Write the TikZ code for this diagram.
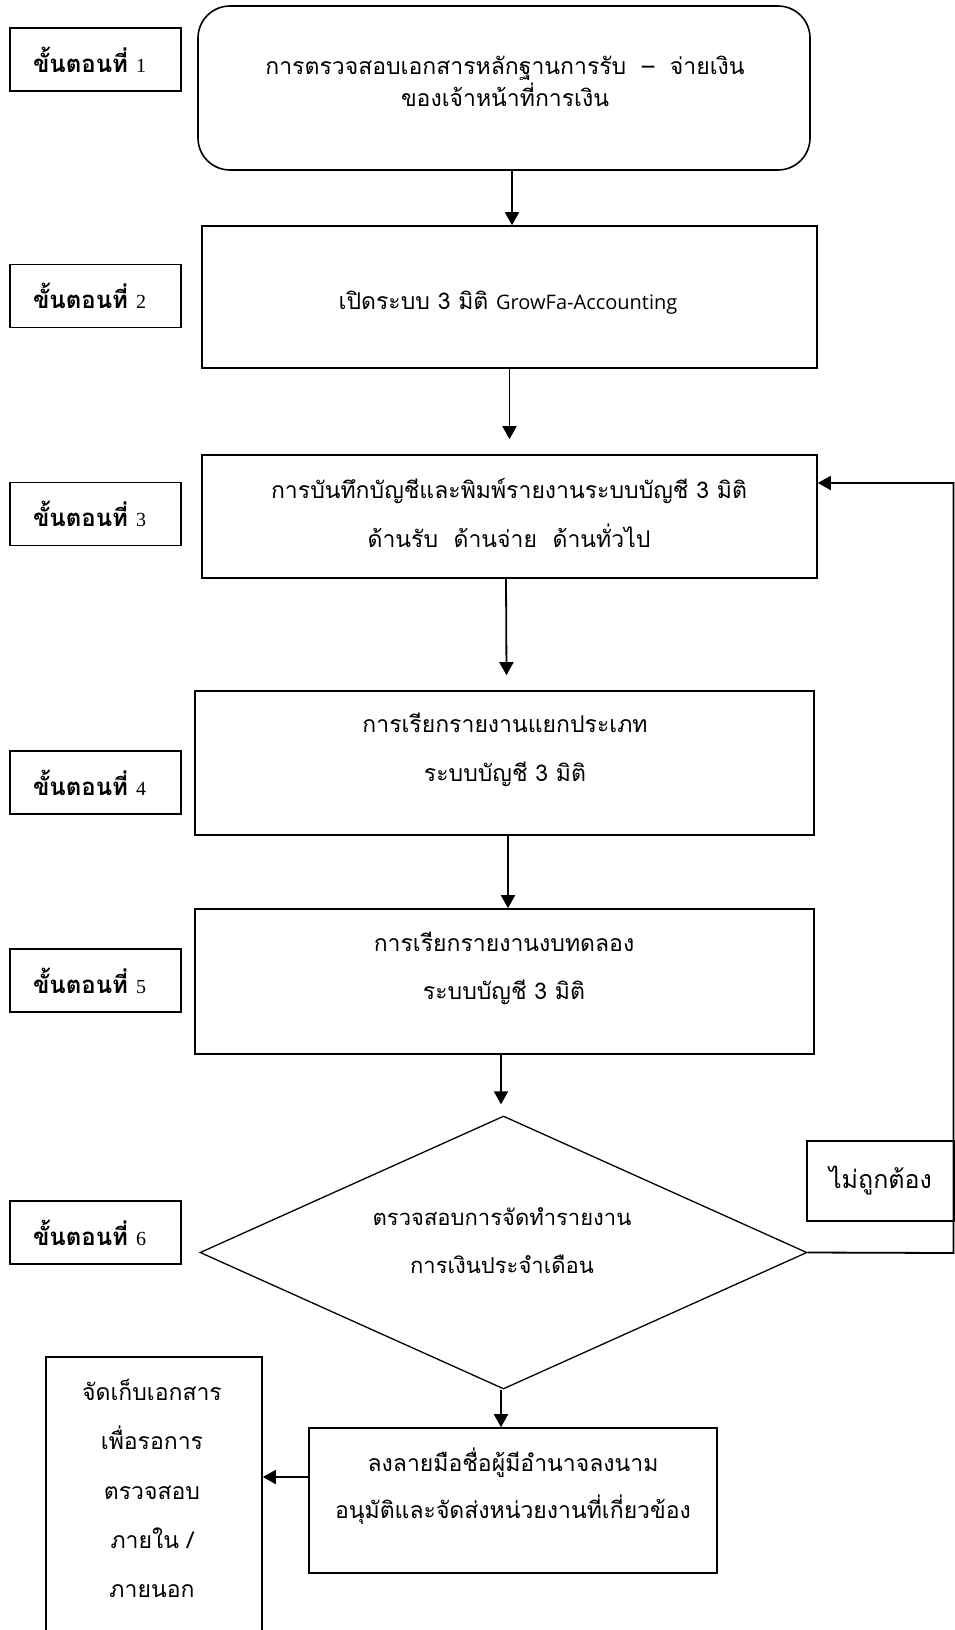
\documentclass[tikz,border=0pt]{standalone}
\usepackage{fontspec}
\usetikzlibrary{arrows.meta,shapes.geometric}
\newfontfamily\thai[Script=Thai]{Loma}
\newfontfamily\lsans{Open Sans}
\newfontfamily\lserif{Liberation Serif}
\newcommand{\fs}[2]{\fontsize{#1}{#2}\selectfont}
\newcommand{\stepno}[1]{{\lserif\mdseries\fs{20}{24}#1}}
\begin{document}
\begin{tikzpicture}[x=1pt,y=-1pt,
  box/.style={draw, line width=1.6pt, rectangle, inner sep=0pt},
  stepbox/.style={draw, line width=1.6pt, rectangle, minimum height=63pt,
     text width=125pt, inner xsep=23pt, inner ysep=0pt, align=left,
     font=\thai\bfseries\fs{24}{28}},
  txt/.style={align=center, inner sep=0pt, font=\thai\fs{23}{49}},
  arr/.style={line width=1.8pt, -{Triangle[length=13pt,width=14pt]}}]
\useasboundingbox (0,0) rectangle (955,1630);

% step labels
\node[stepbox] (s1) at (95.5,59.5)  {ขั้นตอนที่ \stepno{1}};
\node[stepbox] (s2) at (95.5,296)   {ขั้นตอนที่ \stepno{2}};
\node[stepbox] (s3) at (95.5,514)   {ขั้นตอนที่ \stepno{3}};
\node[stepbox] (s4) at (95.5,782.5) {ขั้นตอนที่ \stepno{4}};
\node[stepbox] (s5) at (95.5,980.5) {ขั้นตอนที่ \stepno{5}};
\node[stepbox] (s6) at (95.5,1232.5){ขั้นตอนที่ \stepno{6}};

% process boxes
\node[box, rounded corners=32pt, minimum width=612pt, minimum height=164pt] (b1) at (504,88) {};
\node[box, minimum width=615pt, minimum height=142pt] (b2) at (509.5,297) {};
\node[box, minimum width=615pt, minimum height=123pt] (b3) at (509.5,516.5) {};
\node[box, minimum width=619pt, minimum height=144pt] (b4) at (504.5,763) {};
\node[box, minimum width=619pt, minimum height=145pt] (b5) at (504.5,981.5) {};
\node[draw, line width=1.3pt, diamond, inner sep=0pt, minimum width=607pt, minimum height=273pt] (d) at (503.5,1252.5) {};
\node[box, minimum width=408pt, minimum height=145pt] (b7) at (513,1500.5) {};
\node[box, minimum width=216pt, minimum height=288pt] (b8) at (154,1501) {};
\node[box, minimum width=147pt, minimum height=80pt, font=\thai\fs{25}{28}] (no) at (880.5,1181) {ไม่ถูกต้อง};

% texts
\node[txt, font=\thai\fs{23}{32}] (t1) at (505,81)
  {การตรวจสอบเอกสารหลักฐานการรับ\ \ –\ \ จ่ายเงิน\\ของเจ้าหน้าที่การเงิน};
\node[txt] (t2) at (508,303) {เปิดระบบ 3 มิติ {\lsans\fs{20}{22}GrowFa-Accounting}};
\node[txt] (t3) at (509,512.5) {การบันทึกบัญชีและพิมพ์รายงานระบบบัญชี 3 มิติ\\ด้านรับ\ \ ด้านจ่าย\ \ ด้านทั่วไป};
\node[txt] (t4) at (505,749.5) {การเรียกรายงานแยกประเภท\\ระบบบัญชี 3 มิติ};
\node[txt, font=\thai\fs{23}{48}] (t5) at (504,968) {การเรียกรายงานงบทดลอง\\ระบบบัญชี 3 มิติ};
\node[txt, font=\thai\fs{22}{48}] (t6) at (502,1241) {ตรวจสอบการจัดทำรายงาน\\การเงินประจำเดือน};
\node[txt, font=\thai\fs{23}{47}] (t7) at (513,1486.5) {ลงลายมือชื่อผู้มีอำนาจลงนาม\\อนุมัติและจัดส่งหน่วยงานที่เกี่ยวข้อง};
\node[txt, font=\thai\fs{23}{49.25}] (t8) at (152,1488.5) {จัดเก็บเอกสาร\\เพื่อรอการ\\ตรวจสอบ\\ภายใน /\\ภายนอก};

% connectors
\draw[arr] ([xshift=8pt]b1.south) -- ([xshift=2.5pt]b2.north);
\draw[arr] (b2.south) -- ([yshift=15pt]b3.north);
\draw[arr] ([xshift=-3.5pt]b3.south) -- ([xshift=2pt,yshift=15pt]b4.north);
\draw[arr] ([xshift=3.5pt]b4.south) -- ([xshift=3.5pt]b5.north);
\draw[arr] ([xshift=-3.5pt]b5.south) -- ([xshift=-2.5pt,yshift=11pt]d.north);
\draw[arr] ([xshift=-2.5pt]d.south) -- ([xshift=-2.5pt]d.south |- b7.north);
\draw[arr] ([yshift=23.5pt]b7.west) coordinate (a7) -- (a7 -| b8.east);
\coordinate (fbR) at (953.5,1253);
\coordinate (fbT) at (953.5,483);
\draw[arr] (d.east) -- (fbR) -- (fbT) -- (fbT -| b3.east);
\end{tikzpicture}
\end{document}
